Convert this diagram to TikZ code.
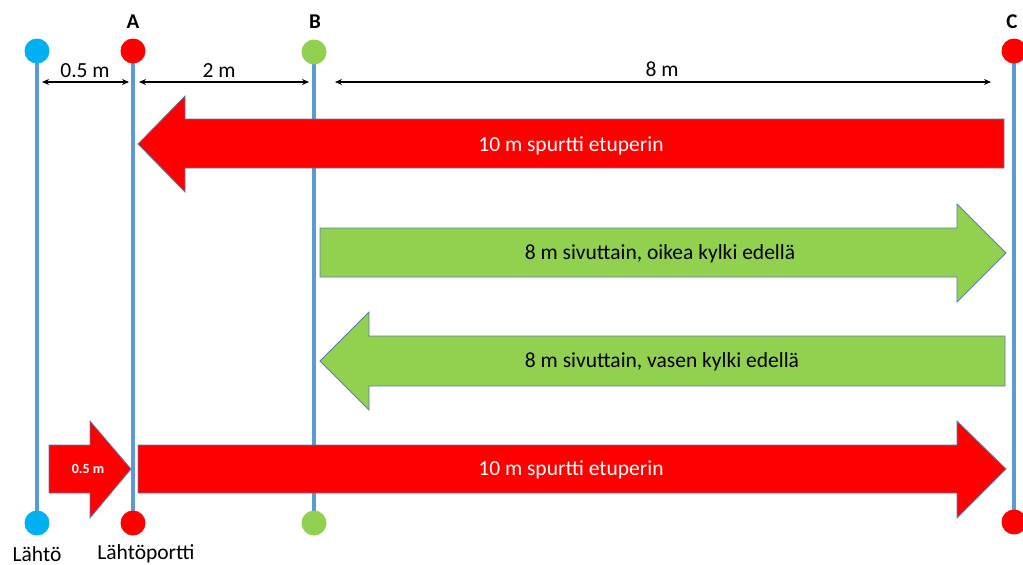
\documentclass[tikz,border=0pt]{standalone}
\usepackage{fontspec}
\setmainfont{Carlito}
\usetikzlibrary{arrows.meta}
\definecolor{poleblue}{HTML}{5B9BD5}
\definecolor{dotblue}{HTML}{00B0F0}
\definecolor{dotred}{HTML}{FF0000}
\definecolor{dotgreen}{HTML}{92D050}
\definecolor{edgeblue}{HTML}{5A7FA8}
\tikzset{
  dot/.style={circle,inner sep=0pt,minimum size=25pt,draw=none},
  pole/.style={draw=poleblue,line width=3.2pt},
  dim/.style={draw=black,line width=1.3pt,{Stealth[length=7pt,width=6pt]}-{Stealth[length=7pt,width=6pt]}},
  dimlabel/.style={font=\fontsize{21.5}{24}\selectfont,inner sep=0pt},
  gate/.style={font=\bfseries\fontsize{21}{24}\selectfont,inner sep=0pt},
  shaft/.style={draw=edgeblue,line width=0.8pt},
  wtext/.style={text=white,font=\fontsize{21.5}{24}\selectfont,inner sep=0pt},
  btext/.style={text=black,font=\fontsize{21.5}{24}\selectfont,inner sep=0pt},
}
\begin{document}
\begin{tikzpicture}[x=1pt,y=-1pt]
\useasboundingbox (0,0) rectangle (1023,565);
% poles
\node[dot] (s1) at (37,51) {};
\node[dot] (s2) at (37,523) {};
\node[dot] (a1) at (133,51) {};
\node[dot] (a2) at (133,523) {};
\node[dot] (b1) at (314,52) {};
\node[dot] (b2) at (314,523) {};
\node[dot] (c1) at (1014,51) {};
\node[dot] (c2) at (1014,522) {};
\draw[pole] (s1.center) -- (s2.center);
\draw[pole] (a1.center) -- (a2.center);
\draw[pole] (b1.center) -- (b2.center);
\draw[pole] (c1.center) -- (c2.center);
\foreach \p/\c in {s1/dotblue,s2/dotblue,a1/dotred,a2/dotred,b1/dotgreen,b2/dotgreen,c1/dotred,c2/dotred}{
  \fill[\c] (\p.center) circle (12.5pt);
}
% gate labels
\node[gate] (la) at (133,22) {A};
\node[gate] (lb) at (315,22) {B};
\node[gate] (lc) at (1012,22) {C};
% dimensions
\coordinate (d1l) at (42,82); \coordinate (d1r) at (129,82);
\coordinate (d2l) at (139,82); \coordinate (d2r) at (309,82);
\coordinate (d3l) at (335,82); \coordinate (d3r) at (991,82);
\draw[dim] (d1l) -- (d1r);
\draw[dim] (d2l) -- (d2r);
\draw[dim] (d3l) -- (d3r);
\node[dimlabel] (t1) at (85,71) {0.5 m};
\node[dimlabel] (t2) at (219,71) {2 m};
\node[dimlabel] (t3) at (662,69) {8 m};
% red arrow 1 (left)
\filldraw[shaft,fill=dotred] (1004,119) -- (185,119) -- (185,96) -- (138,144) -- (185,192) -- (185,168) -- (1004,168) -- cycle;
\node[wtext] (r1) at (571,146) {10 m spurtti etuperin};
% green arrow 1 (right)
\filldraw[shaft,fill=dotgreen] (320,228) -- (957,228) -- (957,204) -- (1006,253) -- (957,302) -- (957,277) -- (320,277) -- cycle;
\node[btext] (g1) at (660,254) {8 m sivuttain, oikea kylki edellä};
% green arrow 2 (left)
\filldraw[shaft,fill=dotgreen] (1005,336) -- (369,336) -- (369,312) -- (320,361) -- (369,410) -- (369,386) -- (1005,386) -- cycle;
\node[btext] (g2) at (662,362) {8 m sivuttain, vasen kylki edellä};
% small red arrow
\filldraw[shaft,fill=dotred] (49,445) -- (90,445) -- (90,421) -- (131,469) -- (90,518) -- (90,493) -- (49,493) -- cycle;
\node[wtext,font=\bfseries\fontsize{14}{16}\selectfont] (r0) at (88,469) {0.5 m};
% big red arrow bottom
\filldraw[shaft,fill=dotred] (138,445) -- (957,445) -- (957,421) -- (1006,469) -- (957,518) -- (957,493) -- (138,493) -- cycle;
\node[wtext] (r2) at (571,470) {10 m spurtti etuperin};
% bottom labels
\node[dimlabel] (l1) at (37,554) {Lähtö};
\node[dimlabel] (l2) at (146,554) {Lähtöportti};
\end{tikzpicture}
\end{document}
